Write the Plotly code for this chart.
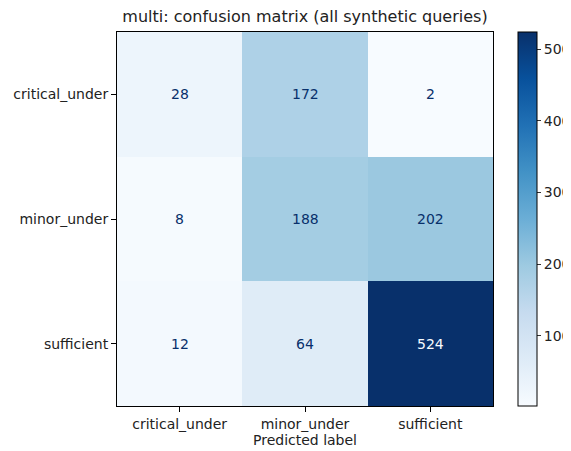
import plotly.graph_objects as go

# Confusion matrix values (rows = true label, cols = predicted label)
labels = ["critical_under", "minor_under", "sufficient"]
counts = [
    [28, 172, 2],
    [8, 188, 202],
    [12, 64, 524],
]
cbar_ticks = [100, 200, 300, 400, 500]

# matplotlib "Blues"
blues = ["#f7fbff", "#deebf7", "#c6dbef", "#9ecae1", "#6baed6",
         "#4292c6", "#2171b5", "#08519c", "#08306b"]
colorscale = [[i / (len(blues) - 1), c] for i, c in enumerate(blues)]

zmin = min(min(r) for r in counts)
zmax = max(max(r) for r in counts)
thresh = (zmin + zmax) / 2

FONT = "DejaVu Sans"
# the page body has an 8px margin, so the figure is drawn 8px smaller
OFF = 8
W, H = 571 - OFF, 451 - OFF
L, R, T, B = 117 - OFF, 493 - OFF, 32 - OFF, 406 - OFF  # plot area in pixels
CB_X = 518 - OFF

fig = go.Figure()
fig.add_trace(go.Heatmap(
    z=counts,
    x=labels,
    y=labels,
    colorscale=colorscale,
    zmin=zmin,
    zmax=zmax,
    hoverinfo="skip",
    colorbar=dict(
        x=1 + (CB_X - R) / (R - L), xanchor="left", xpad=0,
        thickness=19,
        len=1.0, lenmode="fraction", ypad=0,
        y=0.5, yanchor="middle",
        outlinecolor="black", outlinewidth=1,
        tickvals=cbar_ticks,
        ticks="outside", ticklen=4, tickcolor="#333",
        tickfont=dict(family=FONT, size=14, color="#222"),
    ),
))

# Cell annotations, light text on dark cells
for i, row in enumerate(counts):
    for j, v in enumerate(row):
        fig.add_annotation(
            x=labels[j], y=labels[i], text=str(v), showarrow=False,
            font=dict(family=FONT, size=14,
                      color=blues[0] if v > thresh else blues[-1]),
        )

axis_common = dict(
    showgrid=False, zeroline=False, automargin=False,
    showline=True, linecolor="black", linewidth=1, mirror=True,
    ticks="outside", ticklen=5, tickcolor="black",
    tickfont=dict(family=FONT, size=14, color="#222"),
)

fig.update_xaxes(
    title=dict(text="Predicted label", standoff=2,
               font=dict(family=FONT, size=14, color="#222")),
    **axis_common,
)
fig.update_yaxes(autorange="reversed", **axis_common)

fig.update_layout(
    width=W, height=H,
    margin=dict(l=L, r=W - R, t=T, b=H - B, autoexpand=False),
    paper_bgcolor="white", plot_bgcolor="white",
    title=dict(
        text="multi: confusion matrix (all synthetic queries)",
        x=(L + R) / 2 / W, xanchor="center",
        y=1, yanchor="top", pad=dict(t=3),
        font=dict(family=FONT, size=16, color="#222"),
    ),
)

fig.write_html("out.html")
